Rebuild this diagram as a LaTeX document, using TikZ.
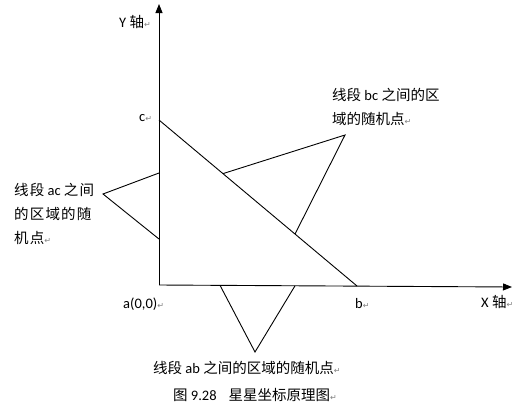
\documentclass[tikz,border=0pt]{standalone}
\usepackage{fontspec}
\setmainfont{Carlito}
\newfontfamily\zhf{Noto Sans CJK SC}
\newfontfamily\zhwide[LetterSpace=8]{Noto Sans CJK SC}
\newfontfamily\symf{DejaVu Sans}
\usetikzlibrary{arrows.meta,calc}
\newcommand\parmk{{\symf\fontsize{8}{8}\selectfont\textcolor{gray}{↵}}}
\begin{document}
\begin{tikzpicture}[x=1pt,y=-1pt,
  lbl/.style={anchor=base west, inner sep=0pt, font=\fontsize{14.5}{16}\selectfont},
  ln/.style={line width=0.9pt, draw=black},
  axis/.style={ln, -{Triangle[length=9pt,width=7pt]}}]
\useasboundingbox (0,0) rectangle (524,410);
\fill[white] (0,0) rectangle (524,410);
% key points
\coordinate (a) at (159,285);
\coordinate (ytip) at (159,4);
\coordinate (xtip) at (512,287);
\coordinate (c) at (159,120);
\coordinate (b) at (357,286);
% axes
\draw[axis] (a) -- (ytip);
\draw[axis] (a) -- (xtip);
% hypotenuse
\draw[ln] (c) -- (b);
% star point over bc
\coordinate (bc1) at ($(c)!0.323!(b)$);
\coordinate (bc2) at ($(c)!0.687!(b)$);
\coordinate (bcp) at (345,135);
\draw[ln] (bc1) -- (bcp) -- (bc2);
% star point over ac
\coordinate (ac1) at (159,173);
\coordinate (ac2) at (159,239);
\coordinate (acp) at (103,194);
\draw[ln] (ac1) -- (acp) -- (ac2);
% star point over ab
\coordinate (ab1) at (220,285.3);
\coordinate (ab2) at (295,285.8);
\coordinate (abp) at (255,352);
\draw[ln] (ab1) -- (abp) -- (ab2);
% labels
\node[lbl] (ylab) at (119,27) {Y {\zhf 轴}\parmk};
\node[lbl] (clab) at (139,121) {c\parmk};
\node[lbl] (bcl1) at (332,100) {{\zhf 线段} bc {\zhf 之间的区}};
\node[lbl] (bcl2) at (332,124) {{\zhf 域的随机点}\parmk};
\node[lbl] (acl1) at (14,195) {{\zhwide 线段} ac {\zhwide 之间}};
\node[lbl] (acl2) at (14,219) {{\zhwide 的区域的随}};
\node[lbl] (acl3) at (14,243) {{\zhwide 机点}\parmk};
\node[lbl] (alab) at (123,308) {a(0,0)\parmk};
\node[lbl] (blab) at (355,308) {b\parmk};
\node[lbl] (xlab) at (481,307) {X {\zhf 轴}\parmk};
\node[lbl] (cap1) at (153,373) {{\zhf 线段} ab {\zhf 之间的区域的随机点}\parmk};
\node[lbl] (cap2) at (173,400) {{\zhf 图} 9.28\hspace{12pt}{\zhf 星星坐标原理图}\parmk};
\end{tikzpicture}
\end{document}
